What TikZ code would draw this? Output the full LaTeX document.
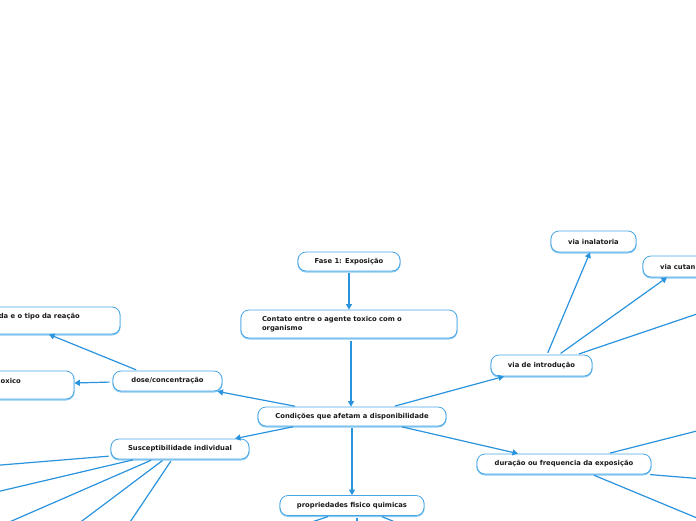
\documentclass[tikz,border=0pt]{standalone}
\usepackage{fontspec}
\setmainfont{DejaVu Sans}
\usetikzlibrary{arrows.meta}
\definecolor{lineblue}{HTML}{2A93DE}
\definecolor{boxblue}{HTML}{49A6E6}
\definecolor{boxshade}{HTML}{8CCBF2}
\definecolor{txtc}{HTML}{1A1A1A}
\tikzset{
  lbl/.style={font=\fontsize{6.8}{9}\selectfont\bfseries, text=txtc, inner sep=0pt},
  box/.style={lbl, draw=boxblue, line width=0.8pt, rounded corners=8pt, fill=white,
    preaction={draw=boxshade, line width=1.4pt, transform canvas={yshift=-0.8pt}}},
  conn/.style={draw=lineblue, line width=1.2pt, shorten <=2pt},
  arr/.style={conn, -{Triangle[length=5.5pt,width=6pt]}},
}
\begin{document}
\begin{tikzpicture}[x=1pt,y=-1pt]
\useasboundingbox (0,0) rectangle (696,520);
\clip (0,0) rectangle (696,520);

% boxes
\node[box, minimum width=102, minimum height=19] (fase) at (349,261.5) {Fase 1: Exposição};
\node[box, minimum width=216, minimum height=28, text width=174, align=left] (contato) at (349,324) {Contato entre o agente toxico com o\\organismo};
\node[box, minimum width=188, minimum height=19] (cond) at (352,416.5) {Condições que afetam a disponibilidade};
\node[box, minimum width=144, minimum height=20] (prop) at (352,505.5) {propriedades fisico quimicas};
\node[box, minimum width=101, minimum height=21] (intro) at (541.5,365.5) {via de introdução};
\node[box, minimum width=85, minimum height=21] (inal) at (593.5,241.5) {via inalatoria};
\node[box, minimum width=110, minimum height=21] (cutan) at (698,266.5) {};
\node[lbl, anchor=west] (cutantxt) at (660,266.5) {via cutan};
\node[box, minimum width=109, minimum height=20] (dose) at (167.5,381) {dose/concentração};
\node[box, minimum width=280, minimum height=27] (reacao) at (-20,320.5) {};
\node[lbl, anchor=east] (reacaotxt) at (80,317) {da e o tipo da reação};
\node[box, minimum width=234, minimum height=28] (oxico) at (-43,385) {};
\node[lbl, anchor=east] (oxicotxt) at (21,381) {oxico};
\node[box, minimum width=138, minimum height=20] (susc) at (180,449) {Susceptibilidade individual};
\node[box, minimum width=174, minimum height=20] (dur) at (564,464) {duração ou frequencia da exposição};

% off-canvas ends
\coordinate (offA) at (756,294);
\coordinate (durA) at (740,420);
\coordinate (durB) at (740,482);
\coordinate (durC) at (750,540);
\coordinate (susA) at (-60,470);
\coordinate (susB) at (-40,500.5);
\coordinate (susC) at (-40,543.5);
\coordinate (susD) at (44,549.5);
\coordinate (susE) at (112,549);
\coordinate (propA) at (300,526);
\coordinate (propB) at (357,530);
\coordinate (propC) at (410,528);

% connectors
\draw[arr] (fase.south) -- (contato.north);
\draw[arr, shorten <=3pt] ([xshift=2pt]contato.south) -- ([xshift=-1pt]cond.north);
\draw[arr] (cond.south) -- (prop.north);
\draw[arr] ([xshift=-55pt]cond.north) -- ([xshift=50pt]dose.south);
\draw[arr] ([xshift=-57pt]cond.south) -- ([xshift=55pt]susc.north);
\draw[arr] ([xshift=41pt]cond.north) -- ([xshift=-37.5pt]intro.south);
\draw[arr] ([xshift=48pt]cond.south) -- ([xshift=-46pt]dur.north);
\draw[arr] ([xshift=-29.5pt]dose.north) -- ([xshift=69pt]reacao.south);
\draw[arr, shorten <=3pt] ([yshift=-1pt]dose.west) -- ([yshift=2pt]oxico.east);
\draw[arr] ([xshift=5.5pt]intro.north) -- ([xshift=-3.5pt]inal.south);
\draw[arr] ([xshift=17.5pt]intro.north) -- ([xshift=-31pt]cutan.south);
\draw[conn] ([xshift=35.5pt]intro.north) -- (offA);
\draw[conn] ([xshift=44pt]dur.north) -- (durA);
\draw[conn] ([xshift=84pt]dur.south) -- (durB);
\draw[conn] ([xshift=28pt]dur.south) -- (durC);
\draw[conn] ([yshift=-7pt]susc.west) -- (susA);
\draw[conn] ([xshift=-45pt]susc.south) -- (susB);
\draw[conn] ([xshift=-27pt]susc.south) -- (susC);
\draw[conn] ([xshift=-16pt]susc.south) -- (susD);
\draw[conn] ([xshift=-8pt]susc.south) -- (susE);
\draw[conn] ([xshift=-22pt]prop.south) -- (propA);
\draw[conn] ([xshift=5pt]prop.south) -- (propB);
\draw[conn] ([xshift=28pt]prop.south) -- (propC);
\end{tikzpicture}
\end{document}
